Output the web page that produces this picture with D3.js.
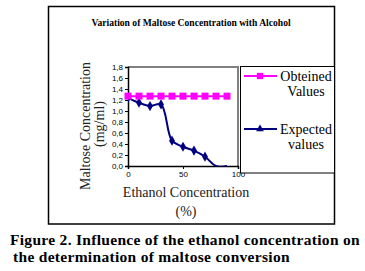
<!DOCTYPE html>
<html>
<head>
<meta charset="utf-8">
<script src="https://cdn.jsdelivr.net/npm/d3@7"></script>
<style>
  body { margin: 0; background: #fff; }
  svg { display: block; }
</style>
</head>
<body>
<div id="chart"></div>
<script>
// data
const ethanol = [0, 10, 20, 30, 40, 50, 60, 70, 80, 90];
const obtained = [1.27, 1.27, 1.27, 1.27, 1.27, 1.27, 1.27, 1.27, 1.27, 1.27];
const expected = [1.24, 1.15, 1.09, 1.12, 0.46, 0.35, 0.28, 0.17, 0.0, 0.0];
const yTicks = [0, 0.2, 0.4, 0.6, 0.8, 1.0, 1.2, 1.4, 1.6, 1.8];
const xTicks = [0, 50, 100];
const legendNames = [["Obteined", "Values"], ["Expected", "values"]];

const W = 365, H = 271;
const plot = { left: 128, right: 238, top: 67, bottom: 166 };
const serif = "Liberation Serif";

const svg = d3.select("#chart").append("svg")
    .attr("width", W)
    .attr("height", H);

const x = d3.scaleLinear().domain([0, 100]).range([plot.left, plot.right]);
const y = d3.scaleLinear().domain([0, 1.8]).range([plot.bottom, plot.top]);
const fmt = d => d3.format(".1f")(d).replace(".", ",");

// outer frame
svg.append("rect")
    .attr("x", 48.5).attr("y", 6.5)
    .attr("width", 286).attr("height", 217.5)
    .attr("fill", "none")
    .attr("stroke", "#000")
    .attr("stroke-width", 1.5);

// chart title
svg.append("text")
    .attr("x", 191).attr("y", 26)
    .attr("text-anchor", "middle")
    .attr("font-family", serif)
    .attr("font-weight", "bold")
    .attr("font-size", 9.6)
    .text("Variation of Maltose Concentration with Alcohol");

// plot frame: gray top and right
svg.append("path")
    .attr("d", `M${plot.left},${plot.top}H${plot.right}V${plot.bottom}`)
    .attr("fill", "none")
    .attr("stroke", "#808080")
    .attr("stroke-width", 2);

// axes
const yAxis = svg.append("g")
    .attr("transform", `translate(${plot.left},0)`)
    .call(d3.axisLeft(y).tickValues(yTicks).tickSize(3).tickPadding(2).tickFormat(fmt));
const xAxis = svg.append("g")
    .attr("transform", `translate(0,${plot.bottom})`)
    .call(d3.axisBottom(x).tickValues(xTicks).tickSize(3).tickPadding(2));
[yAxis, xAxis].forEach(a => {
    a.attr("font-family", "Liberation Sans").attr("font-size", 8);
    a.selectAll("text").attr("fill", "#000");
    a.select(".domain").attr("stroke", "#000").attr("stroke-width", 1.5);
});

// clip for the series
svg.append("clipPath").attr("id", "plotClip")
    .append("rect")
    .attr("x", plot.left).attr("y", plot.top - 10)
    .attr("width", plot.right - plot.left).attr("height", plot.bottom - plot.top + 10.5);

const series = svg.append("g").attr("clip-path", "url(#plotClip)");

// expected values: smoothed navy line with diamonds
const expData = ethanol.map((e, i) => ({ x: e, y: expected[i] }));
series.append("path")
    .datum(expData)
    .attr("fill", "none")
    .attr("stroke", "#000080")
    .attr("stroke-width", 2)
    .attr("d", d3.line().x(d => x(d.x)).y(d => y(d.y)).curve(d3.curveCatmullRom.alpha(0.5)));

series.selectAll(".diamond")
    .data(expData.filter(d => d.y > 0))
    .join("path")
    .attr("class", "diamond")
    .attr("transform", d => `translate(${x(d.x)},${y(d.y)})`)
    .attr("d", d3.symbol(d3.symbolDiamond, 30))
    .attr("fill", "#000080");

// obtained values: magenta line with squares
const obtData = ethanol.map((e, i) => ({ x: e, y: obtained[i] }));
svg.append("path")
    .datum(obtData)
    .attr("fill", "none")
    .attr("stroke", "#ff00ff")
    .attr("stroke-width", 2)
    .attr("d", d3.line().x(d => x(d.x)).y(d => y(d.y)));

svg.selectAll(".square")
    .data(obtData)
    .join("rect")
    .attr("class", "square")
    .attr("x", d => x(d.x) - 3.5)
    .attr("y", d => y(d.y) - 3.5)
    .attr("width", 7).attr("height", 7)
    .attr("fill", "#ff00ff");

// axis titles
const axisTitle = (t, tx, ty, rot) => svg.append("text")
    .attr("transform", `translate(${tx},${ty})` + (rot ? " rotate(-90)" : ""))
    .attr("text-anchor", "middle")
    .attr("font-family", serif)
    .attr("font-size", 14)
    .attr("fill", "#222")
    .text(t);
axisTitle("Maltose Concentration", 90, 126, true);
axisTitle("(mg/ml)", 104, 124, true);
axisTitle("Ethanol Concentration", 186, 197, false);
axisTitle("(%)", 186, 216, false);

// legend box
const legend = svg.append("g");
legend.append("rect")
    .attr("x", 240.5).attr("y", 66.5)
    .attr("width", 94).attr("height", 106.5)
    .attr("fill", "#fff")
    .attr("stroke", "#000")
    .attr("stroke-width", 1);

const legendColors = ["#ff00ff", "#000080"];
const legendY = [76, 129];
legendNames.forEach((name, i) => {
    const g = legend.append("g").attr("transform", `translate(0,${legendY[i]})`);
    g.append("line")
        .attr("x1", 244).attr("x2", 277)
        .attr("stroke", legendColors[i])
        .attr("stroke-width", 2);
    g.append("path")
        .attr("transform", "translate(260,0)")
        .attr("d", d3.symbol(i === 0 ? d3.symbolSquare : d3.symbolTriangle, i === 0 ? 40 : 26))
        .attr("fill", legendColors[i]);
    g.selectAll("text")
        .data(name)
        .join("text")
        .attr("x", 306)
        .attr("y", (d, j) => 5 + j * 15)
        .attr("text-anchor", "middle")
        .attr("font-family", serif)
        .attr("font-size", 14)
        .attr("fill", "#000")
        .text(d => d);
});

// figure caption
const caption = ["Figure 2. Influence of the ethanol concentration on",
                 "the determination of maltose conversion"];
svg.selectAll(".caption")
    .data(caption)
    .join("text")
    .attr("class", "caption")
    .attr("x", (d, i) => i === 0 ? 10 : 13)
    .attr("y", (d, i) => 245 + i * 17)
    .attr("font-family", serif)
    .attr("font-weight", "bold")
    .attr("font-size", 15.5)
    .attr("letter-spacing", 0.3)
    .text(d => d);
</script>
</body>
</html>
